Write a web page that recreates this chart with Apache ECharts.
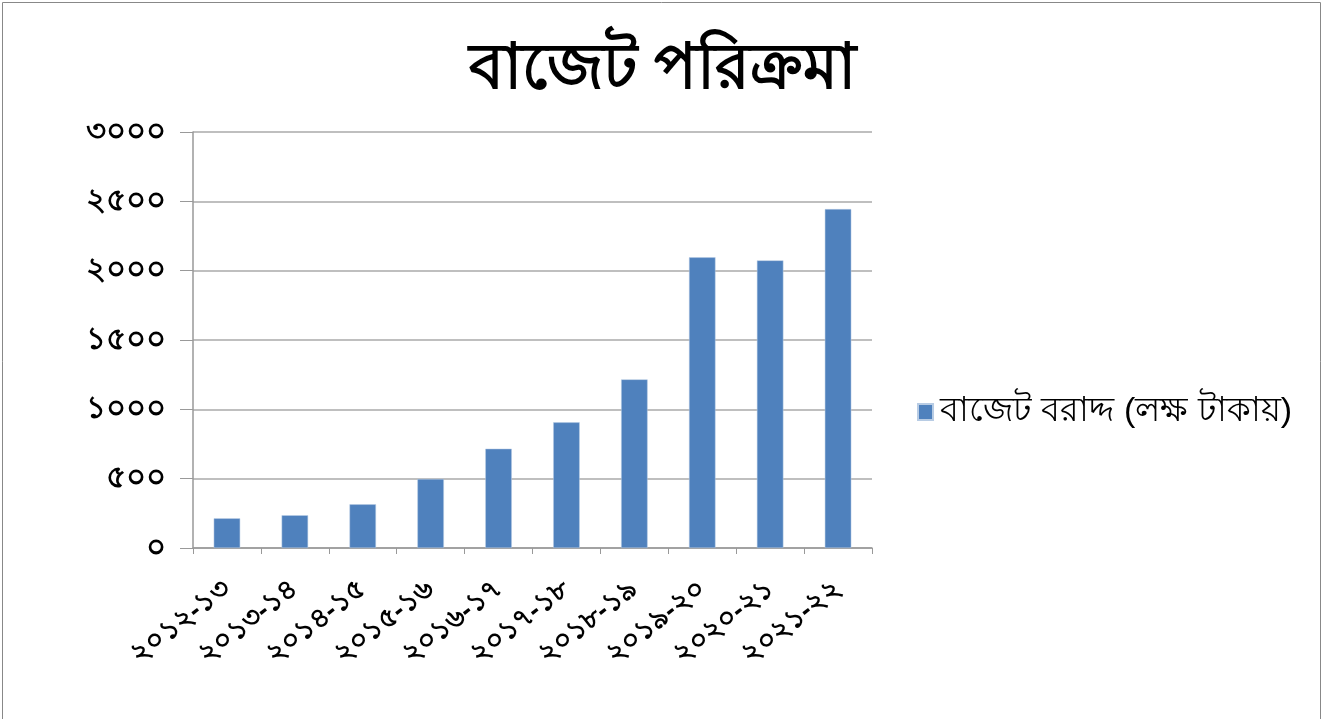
<!DOCTYPE html>
<html><head><meta charset="utf-8">
<script src="https://cdn.jsdelivr.net/npm/echarts@6/dist/echarts.min.js"></script>
<style>html,body{margin:0;padding:0;background:#fff}#c{width:1325px;height:719px}</style>
</head><body><div id="c"></div>
<script>
const categories = ['২০১২-১৩','২০১৩-১৪','২০১৪-১৫','২০১৫-১৬','২০১৬-১৭','২০১৭-১৮','২০১৮-১৯','২০১৯-২০','২০২০-২১','২০২১-২২'];
const budgetValues = [214, 236, 315, 498, 716, 906, 1216, 2096, 2074, 2444];
const yTickLabels = {0:'০',500:'৫০০',1000:'১০০০',1500:'১৫০০',2000:'২০০০',2500:'২৫০০',3000:'৩০০০'};
const seriesName = 'বাজেট বরাদ্দ (লক্ষ টাকায়)';
const titleText = 'বাজেট পরিক্রমা';

const chart = echarts.init(document.getElementById('c'));
chart.setOption({
  animation:false,
  title:{text:titleText,left:'center',top:34,textStyle:{fontSize:63,fontWeight:900,color:'#000'}},
  graphic:[{type:'rect',shape:{x:2.5,y:2.5,width:1318,height:740},style:{fill:'none',stroke:'#888',lineWidth:1}}],
  legend:{right:28,top:390,orient:'vertical',itemWidth:15,itemHeight:16,itemGap:10,
    textStyle:{fontSize:34,color:'#000',padding:[0,0,0,2]},data:[{name:seriesName,icon:'rect'}]},
  grid:{left:193,right:453,top:132,bottom:171,containLabel:false},
  xAxis:{type:'category',data:categories,
    axisLine:{lineStyle:{color:'#999',width:1.5}},
    axisTick:{show:true,length:6,lineStyle:{color:'#999'}},
    axisLabel:{rotate:38,fontSize:28,fontWeight:'bold',color:'#000',margin:38,interval:0}},
  yAxis:{type:'value',min:0,max:3000,interval:500,
    axisLine:{show:true,lineStyle:{color:'#999',width:1.5}},
    axisTick:{show:true,length:13,lineStyle:{color:'#999'}},
    splitLine:{lineStyle:{color:'#aaa',width:1.5}},
    axisLabel:{fontSize:31,fontWeight:'bold',color:'#000',margin:27,formatter:v=>yTickLabels[v]}},
  series:[{name:seriesName,type:'bar',data:budgetValues,barWidth:'39%',
    itemStyle:{color:'#4f81bd',borderColor:'#b8cce4',borderWidth:0.5}}]
});
</script></body></html>
